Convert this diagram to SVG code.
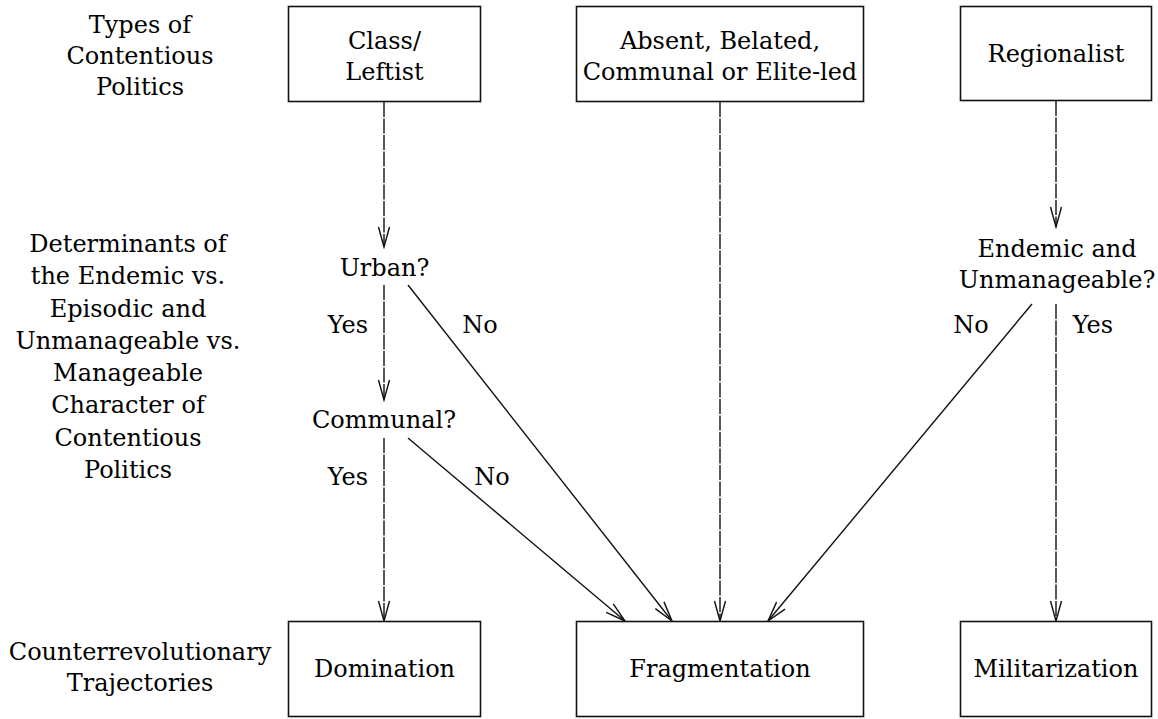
<svg xmlns="http://www.w3.org/2000/svg" width="1158" height="719" viewBox="0 0 1158 719">
  <style>
    text { font-family: "DejaVu Serif", "Liberation Serif", serif; font-size: 24px; fill: #000; text-anchor: middle; }
    .box { fill: #fff; stroke: #111; stroke-width: 1.6; }
    .edge { fill: none; stroke: #111; stroke-width: 1.4; }
    .dash { stroke-dasharray: 15 1.5; }
  </style>
  <defs>
    <marker id="arrow" markerUnits="userSpaceOnUse" markerWidth="24" markerHeight="16" viewBox="-22 -8 24 16" refX="0" refY="0" orient="auto">
      <path d="M-20,-5.5 L0,0 L-20,5.5" fill="none" stroke="#111" stroke-width="1.4"/>
    </marker>
  </defs>

  <rect width="1158" height="719" fill="#fff"/>

  <!-- row labels -->
  <g id="row-types">
    <text x="140" y="33">Types of</text>
    <text x="140" y="64">Contentious</text>
    <text x="140" y="95">Politics</text>
  </g>
  <g id="row-determinants">
    <text x="128" y="252">Determinants of</text>
    <text x="128" y="284">the Endemic vs.</text>
    <text x="128" y="317">Episodic and</text>
    <text x="128" y="349">Unmanageable vs.</text>
    <text x="128" y="381">Manageable</text>
    <text x="128" y="413">Character of</text>
    <text x="128" y="446">Contentious</text>
    <text x="128" y="478">Politics</text>
  </g>
  <g id="row-trajectories">
    <text x="140" y="660">Counterrevolutionary</text>
    <text x="140" y="691">Trajectories</text>
  </g>

  <!-- connectors -->
  <g id="connectors">
    <line class="edge dash" x1="384" y1="102" x2="384" y2="247" marker-end="url(#arrow)"/>
    <line class="edge dash" x1="384" y1="285" x2="384" y2="400" marker-end="url(#arrow)"/>
    <line class="edge" x1="408" y1="285" x2="672" y2="621" marker-end="url(#arrow)"/>
    <line class="edge dash" x1="384" y1="438" x2="384" y2="621" marker-end="url(#arrow)"/>
    <line class="edge" x1="408" y1="438" x2="625" y2="621" marker-end="url(#arrow)"/>
    <line class="edge dash" x1="720" y1="102" x2="720" y2="621" marker-end="url(#arrow)"/>
    <line class="edge dash" x1="1056" y1="101" x2="1056" y2="227" marker-end="url(#arrow)"/>
    <line class="edge" x1="1032" y1="304" x2="768" y2="621" marker-end="url(#arrow)"/>
    <line class="edge dash" x1="1056" y1="304" x2="1056" y2="621" marker-end="url(#arrow)"/>
    <text x="348" y="333">Yes</text>
    <text x="480" y="333">No</text>
    <text x="348" y="485">Yes</text>
    <text x="492" y="485">No</text>
    <text x="971" y="333">No</text>
    <text x="1093" y="333">Yes</text>
  </g>

  <!-- top row nodes -->
  <g id="node-class">
    <rect class="box" x="288.5" y="6.5" width="192" height="95"/>
    <text x="384.5" y="49">Class/</text>
    <text x="384.5" y="80">Leftist</text>
  </g>
  <g id="node-absent">
    <rect class="box" x="576.5" y="6.5" width="287" height="95"/>
    <text x="720" y="49">Absent, Belated,</text>
    <text x="720" y="80">Communal or Elite-led</text>
  </g>
  <g id="node-regionalist">
    <rect class="box" x="960.5" y="6.5" width="191" height="94"/>
    <text x="1056" y="62">Regionalist</text>
  </g>

  <!-- decision points -->
  <g id="node-urban">
    <text x="384.5" y="276">Urban?</text>
  </g>
  <g id="node-communal">
    <text x="384" y="428">Communal?</text>
  </g>
  <g id="node-endemic">
    <text x="1057" y="257">Endemic and</text>
    <text x="1057" y="288">Unmanageable?</text>
  </g>

  <!-- outcomes -->
  <g id="node-domination">
    <rect class="box" x="288.5" y="621.5" width="192" height="95"/>
    <text x="384.5" y="677">Domination</text>
  </g>
  <g id="node-fragmentation">
    <rect class="box" x="576.5" y="621.5" width="287" height="95"/>
    <text x="720" y="677">Fragmentation</text>
  </g>
  <g id="node-militarization">
    <rect class="box" x="960.5" y="621.5" width="191" height="95"/>
    <text x="1056" y="677">Militarization</text>
  </g>
</svg>
